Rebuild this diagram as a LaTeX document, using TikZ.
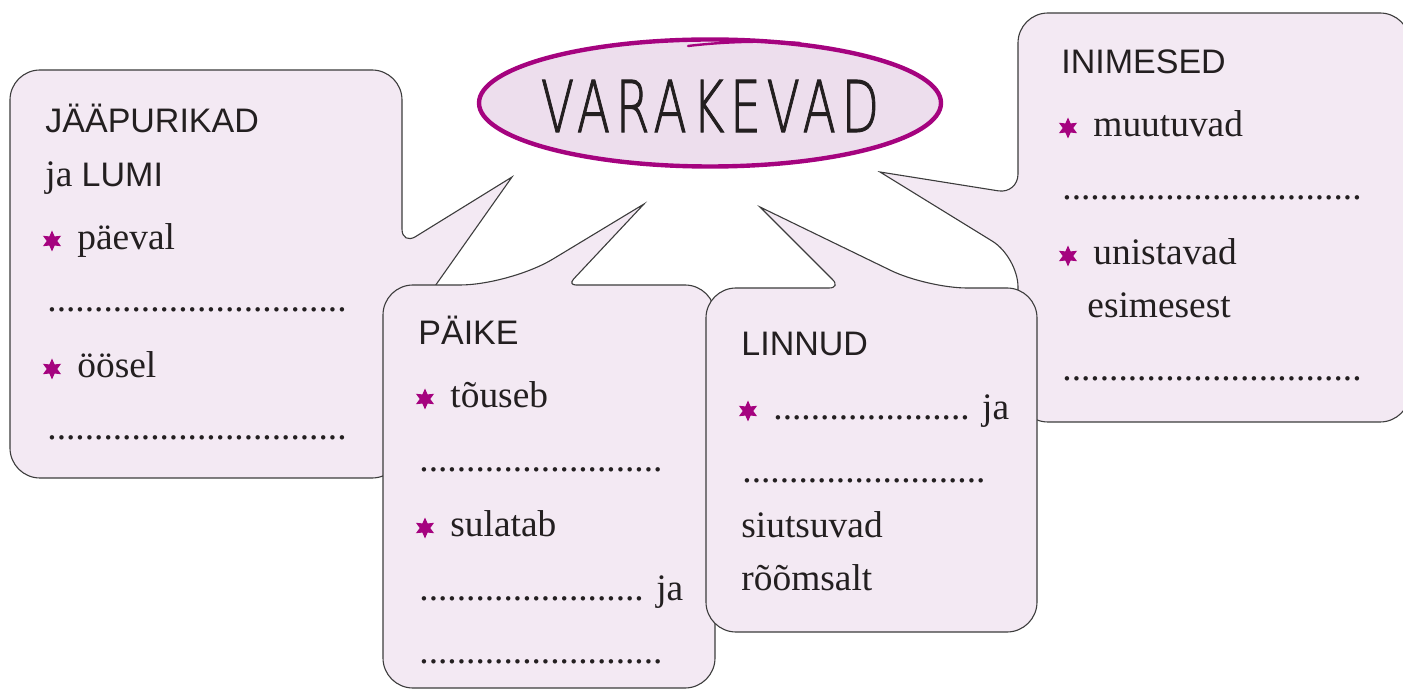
\documentclass[tikz,border=0pt]{standalone}
\usepackage{fontspec}
\usepackage{graphicx}
\setmainfont{Liberation Serif}
\setsansfont{Liberation Sans}
\newfontfamily\handfont[FakeBold=1.6,LetterSpace=12]{DejaVu Sans ExtraLight}
\usetikzlibrary{shapes.geometric}
\definecolor{boxfill}{HTML}{F3E9F3}
\definecolor{ovalfill}{HTML}{EDDEED}
\definecolor{rim}{HTML}{A5037F}
\definecolor{ink}{HTML}{231F20}
\definecolor{edge}{HTML}{3C3C3C}
\newcommand{\hd}{\sffamily\fontsize{17}{20}\selectfont}
\newcommand{\dotrow}[1]{\foreach \k in {1,...,#1}{.}}
\tikzset{
  callout/.style={draw=edge, line width=0.55pt, fill=boxfill},
  head/.style={anchor=base west, inner sep=0pt, text=ink, font=\hd},
  body/.style={anchor=base west, inner sep=0pt, text=ink, font=\fontsize{18.7}{22}\selectfont},
  starmark/.style={star, star points=6, star point ratio=2, fill=rim, inner sep=0pt, minimum size=10.5pt},
}

\begin{document}
\begin{tikzpicture}[x=0.5pt,y=-0.5pt]
            \useasboundingbox (0,0) rectangle (1403,689);
            \coordinate (jTip) at (512,177);
            \coordinate (pTip) at (644,204);
            \coordinate (lTip) at (760,207);
            \coordinate (iTip) at (880,172);

            % callouts, back to front
            \draw[callout] (iTip) [rounded corners=15pt] -- (1018,257) -- (1018,422) -- (1410,422) -- (1410,13) -- (1018,13) [rounded corners=10pt] -- (1018,194) [sharp corners] -- cycle;
            \draw[callout] (jTip) -- (404,330) [rounded corners=15pt] -- (402,478) -- (10,478) -- (10,70) -- (402,70) [rounded corners=8pt] -- (402,245) [sharp corners] -- cycle;
            \draw[callout] (pTip) [rounded corners=4pt] -- (568,285) [rounded corners=15pt] -- (715,285) -- (715,688) -- (383,688) -- (383,285) [rounded corners=25pt] -- (510,285) [sharp corners] -- cycle;
            \draw[callout] (lTip) [rounded corners=20pt] -- (927,288) [rounded corners=15pt] -- (1037,288) -- (1037,632) -- (706,632) -- (706,288) [rounded corners=6pt] -- (841,288) [sharp corners] -- cycle;

            \node[ellipse, draw=rim, line width=2.2pt, fill=ovalfill, minimum width=231pt, minimum height=63.5pt, inner sep=0pt] (title) at (710,103) {};
            \draw[rim, line width=1.2pt, line cap=round] (688,46) .. controls (730,41) and (770,41) .. (800,43);
            \node[text=ink, inner sep=0pt] (titleText) at (710,106)
                {\handfont\fontsize{35.7}{40}\selectfont\scalebox{0.68}[1]{VARAKEVAD}};

            % JÄÄPURIKAD ja LUMI
            \node[head] (jHead) at (45,133) {JÄÄPURIKAD};
            \node[body] (jHead2) at (45,187) {ja {\hd LUMI}};
            \node[starmark] (jStar1) at (52,241) {};
            \node[body] (jDay) at (77,250) {päeval};
            \node[body] (jBlank1) at (47,312) {\dotrow{32}};
            \node[starmark] (jStar2) at (52,369) {};
            \node[body] (jNight) at (77,378) {öösel};
            \node[body] (jBlank2) at (47,440) {\dotrow{32}};

            % PÄIKE
            \node[head] (pHead) at (418,345) {PÄIKE};
            \node[starmark] (pStar1) at (425,399) {};
            \node[body] (pRise) at (450,408) {tõuseb};
            \node[body] (pBlank1) at (419,472) {\dotrow{26}};
            \node[starmark] (pStar2) at (425,528) {};
            \node[body] (pMelt) at (450,537) {sulatab};
            \node[body] (pBlank2) at (419,600) {\dotrow{24} ja};
            \node[body] (pBlank3) at (419,663) {\dotrow{26}};

            % LINNUD
            \node[head] (lHead) at (741,356) {LINNUD};
            \node[starmark] (lStar1) at (748,411) {};
            \node[body] (lBlank1) at (773,420) {\dotrow{21} ja};
            \node[body] (lBlank2) at (742,482) {\dotrow{26}};
            \node[body] (lChirp) at (741,538) {siutsuvad};
            \node[body] (lJoy) at (741,590) {rõõmsalt};

            % INIMESED
            \node[head] (iHead) at (1061,74) {INIMESED};
            \node[starmark] (iStar1) at (1068,128) {};
            \node[body] (iChange) at (1093,137) {muutuvad};
            \node[body] (iBlank1) at (1062,200) {\dotrow{32}};
            \node[starmark] (iStar2) at (1068,256) {};
            \node[body] (iDream) at (1093,265) {unistavad};
            \node[body] (iFirst) at (1087,318) {esimesest};
            \node[body] (iBlank2) at (1062,381) {\dotrow{32}};
        \end{tikzpicture}
\end{document}
